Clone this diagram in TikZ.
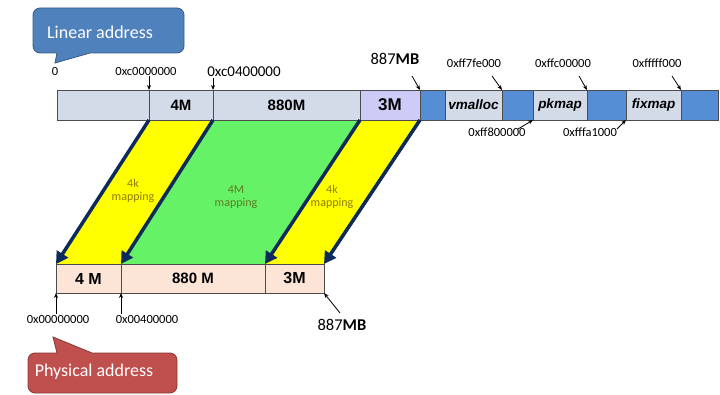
\documentclass[tikz,border=0pt]{standalone}
\usepackage{fontspec}
\setmainfont{Carlito}
\newfontfamily\arialfont{Liberation Sans}
\usetikzlibrary{arrows.meta,backgrounds}

\definecolor{bargray}{HTML}{D3DAE8}
\definecolor{barlav}{HTML}{CCCCF6}
\definecolor{barblue}{HTML}{558ED5}
\definecolor{barpeach}{HTML}{FCE4D6}
\definecolor{mapyellow}{HTML}{FFFF00}
\definecolor{mapgreen}{HTML}{66F266}
\definecolor{mapnavy}{HTML}{0D2A5C}
\definecolor{txtgold}{HTML}{8F7D00}
\definecolor{txtolive}{HTML}{5E7A25}
\definecolor{callblue}{HTML}{4F81BD}
\definecolor{callred}{HTML}{C0504D}

\tikzset{
  seg/.style={draw=black!70,anchor=north west,minimum height=30,inner sep=0,outer sep=0,
    font=\arialfont\bfseries\fontsize{15}{15}\selectfont},
  areaname/.style={font=\arialfont\bfseries\itshape\fontsize{13.5}{13.5}\selectfont},
  addr/.style={font=\fontsize{12.5}{12.5}\selectfont,inner sep=1pt},
  ptr/.style={-{Stealth[length=5pt,width=4pt]},line width=0.8pt},
  maparrow/.style={draw=mapnavy,line width=3.5pt,-{Triangle[length=12pt,width=13pt]}},
  maptext/.style={align=center,font=\fontsize{12}{13}\selectfont},
}

\begin{document}
\begin{tikzpicture}[x=1pt,y=-1pt]
  \useasboundingbox (0,0) rectangle (720,395);

  % linear address bar
  \node[seg,fill=bargray,minimum width=92] (lin0) at (57,90) {};
  \node[seg,fill=bargray,minimum width=64] (lin4M) at (149,90) {4M};
  \node[seg,fill=bargray,minimum width=147] (lin880) at (213,90) {880M};
  \node[seg,fill=barlav,minimum width=60,font=\arialfont\bfseries\fontsize{17}{17}\selectfont] (lin3M) at (360,90) {3M};
  \node[seg,fill=barblue,minimum width=25] (gap1) at (420,90) {};
  \node[seg,fill=bargray,minimum width=57,areaname] (vmalloc) at (445,90) {vmalloc};
  \node[seg,fill=barblue,minimum width=31] (gap2) at (502,90) {};
  \node[seg,fill=bargray,minimum width=54,areaname] (pkmap) at (533,90) {pkmap};
  \node[seg,fill=barblue,minimum width=39] (gap3) at (587,90) {};
  \node[seg,fill=bargray,minimum width=55,areaname] (fixmap) at (626,90) {fixmap};
  \node[seg,fill=barblue,minimum width=37] (gap4) at (681,90) {};

  % physical address bar
  \node[seg,fill=barpeach,minimum width=65,minimum height=29,font=\arialfont\bfseries\fontsize{16}{16}\selectfont] (phy4M) at (56,264) {4 M};
  \node[seg,fill=barpeach,minimum width=144,minimum height=29] (phy880) at (121,264) {880 M};
  \node[seg,fill=barpeach,minimum width=59,minimum height=29,font=\arialfont\bfseries\fontsize{16}{16}\selectfont] (phy3M) at (265,264) {3M};

  % mapped areas
  \begin{scope}[on background layer]
    \fill[mapyellow] (lin4M.south west) -- (lin4M.south east) -- (phy4M.north east) -- (phy4M.north west) -- cycle;
    \fill[mapgreen] (lin880.south west) -- (lin880.south east) -- (phy880.north east) -- (phy880.north west) -- cycle;
    \fill[mapyellow] (lin3M.south west) -- (lin3M.south east) -- (phy3M.north east) -- (phy3M.north west) -- cycle;
  \end{scope}
  \draw[maparrow] (lin4M.south west) -- (phy4M.north west);
  \draw[maparrow] (lin4M.south east) -- (phy880.north west);
  \draw[maparrow] (lin3M.south west) -- (phy3M.north west);
  \draw[maparrow] (lin3M.south east) -- (phy3M.north east);
  \node[maptext,text=txtgold] (map4k) at (133,191) {4k\\mapping};
  \node[maptext,text=txtolive] (map4M) at (236,197) {4M\\mapping};
  \node[maptext,text=txtgold] (map3k) at (332,197) {4k\\mapping};

  % addresses above and below the linear bar
  \node[addr] (a0) at (55,71) {0};
  \node[addr] (ac0) at (146,71) {0xc0000000};
  \node[addr,font=\fontsize{15}{15}\selectfont] (ac4) at (244,72) {0xc0400000};
  \draw[ptr] (ac0.south -| lin4M.north west) -- (lin4M.north west);
  \draw[ptr] (ac4.south -| lin880.north west) -- (lin880.north west);
  \node[addr,font=\fontsize{16.5}{16.5}\selectfont] (top887) at (395,59) {887\textbf{MB}};
  \node[addr] (aff7) at (474,63) {0xff7fe000};
  \node[addr] (affc) at (563,63) {0xffc00000};
  \node[addr] (afff) at (657,63) {0xfffff000};
  \coordinate (t887) at (412,76);
  \coordinate (tff7) at (492,76);
  \coordinate (tffc) at (579,76);
  \coordinate (tfff) at (672,76);
  \draw[ptr] (t887) -- (lin3M.north east);
  \draw[ptr] (tff7) -- (vmalloc.north east);
  \draw[ptr] (tffc) -- (pkmap.north east);
  \draw[ptr] (tfff) -- (fixmap.north east);
  \node[addr] (aff8) at (497,132) {0xff800000};
  \node[addr] (affa) at (590,132) {0xfffa1000};
  \coordinate (tff8) at (518,129);
  \coordinate (tffa) at (617,129);
  \draw[ptr] (tff8) -- (gap2.south east);
  \draw[ptr] (tffa) -- (gap3.south east);

  % addresses below the physical bar
  \node[addr] (p0) at (58,319) {0x00000000};
  \node[addr] (p4) at (147,319) {0x00400000};
  \node[addr,font=\fontsize{16.5}{16.5}\selectfont] (bot887) at (342,325) {887\textbf{MB}};
  \draw[ptr] (p0.north -| phy4M.south west) -- (phy4M.south west);
  \draw[ptr] (p4.north -| phy880.south west) -- (phy880.south west);
  \coordinate (b887) at (340,313);
  \draw[ptr] (b887) -- (phy3M.south east);

  % callouts
  \draw[fill=callblue,draw=callblue!70!black,line width=0.8pt] (55,63) -- (90,53)
    [rounded corners=7] -- (184,53) -- (184,8) -- (33,8) -- (33,53) [sharp corners] -- (57,53) -- cycle;
  \node[text=white,font=\fontsize{18}{18}\selectfont] (linear) at (100,32) {Linear address};
  \draw[fill=callred,draw=callred!70!black,line width=0.8pt] (53,337) -- (92,353)
    [rounded corners=7] -- (177,353) -- (177,393) -- (28,393) -- (28,353) [sharp corners] -- (57,353) -- cycle;
  \node[text=white,font=\fontsize{18}{18}\selectfont] (physical) at (94,372) {Physical address};
\end{tikzpicture}
\end{document}
